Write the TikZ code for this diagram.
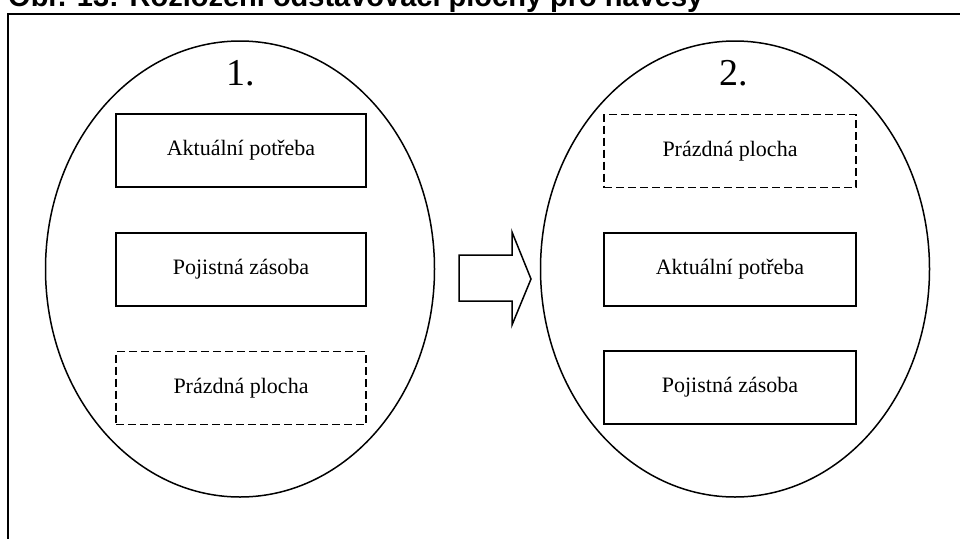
\documentclass[tikz,border=0pt]{standalone}
\usepackage{fontspec}
\setmainfont{Liberation Serif}
\newfontfamily\arialfont{Liberation Sans}
\usetikzlibrary{shapes.geometric}
\begin{document}
\begin{tikzpicture}[x=1pt,y=-1pt,
  oval/.style={draw,ellipse,line width=1.5pt,inner sep=0pt,minimum width=389pt,minimum height=456pt},
  areabox/.style={draw,line width=1.5pt,inner sep=0pt,minimum width=250pt,minimum height=73pt,
    font=\fontsize{22}{26}\selectfont},
  emptybox/.style={areabox,dash pattern=on 8pt off 4pt},
  numlabel/.style={anchor=base,inner sep=0pt,font=\fontsize{38}{44}\selectfont}]
\useasboundingbox (0,0) rectangle (960,538);
\clip (0,0) rectangle (960,538);
% title (cut off at top)
\node[anchor=base west,inner sep=0pt,font=\arialfont\bfseries\fontsize{29}{34}\selectfont] (title) at (8,6)
  {Obr. 13: Rozložení odstavovací plochy pro návěsy};
% frame
\draw[line width=2pt] (8,545) -- (8,13.5) -- (970,13.5);
% ellipses
\node[oval] (e1) at (240,269) {};
\node[oval] (e2) at (735,269) {};
\node[numlabel] (n1) at (241,85) {1.};
\node[numlabel] (n2) at (734,85) {2.};
% left boxes
\node[areabox] (l1) at (241,150.5) {Aktuální potřeba};
\node[areabox] (l2) at (241,269.5) {Pojistná zásoba};
\node[emptybox] (l3) at (241,388) {Prázdná plocha};
% right boxes
\node[emptybox,minimum width=252pt] (r1) at (730,151) {Prázdná plocha};
\node[areabox,minimum width=252pt] (r2) at (730,269.5) {Aktuální potřeba};
\node[areabox,minimum width=252pt] (r3) at (730,387.5) {Pojistná zásoba};
% block arrow
\draw[line width=1.5pt,line join=miter] (459,255) -- (512,255) -- (512,232) -- (531,279)
  -- (512,325) -- (512,301) -- (459,301) -- cycle;
\end{tikzpicture}
\end{document}
